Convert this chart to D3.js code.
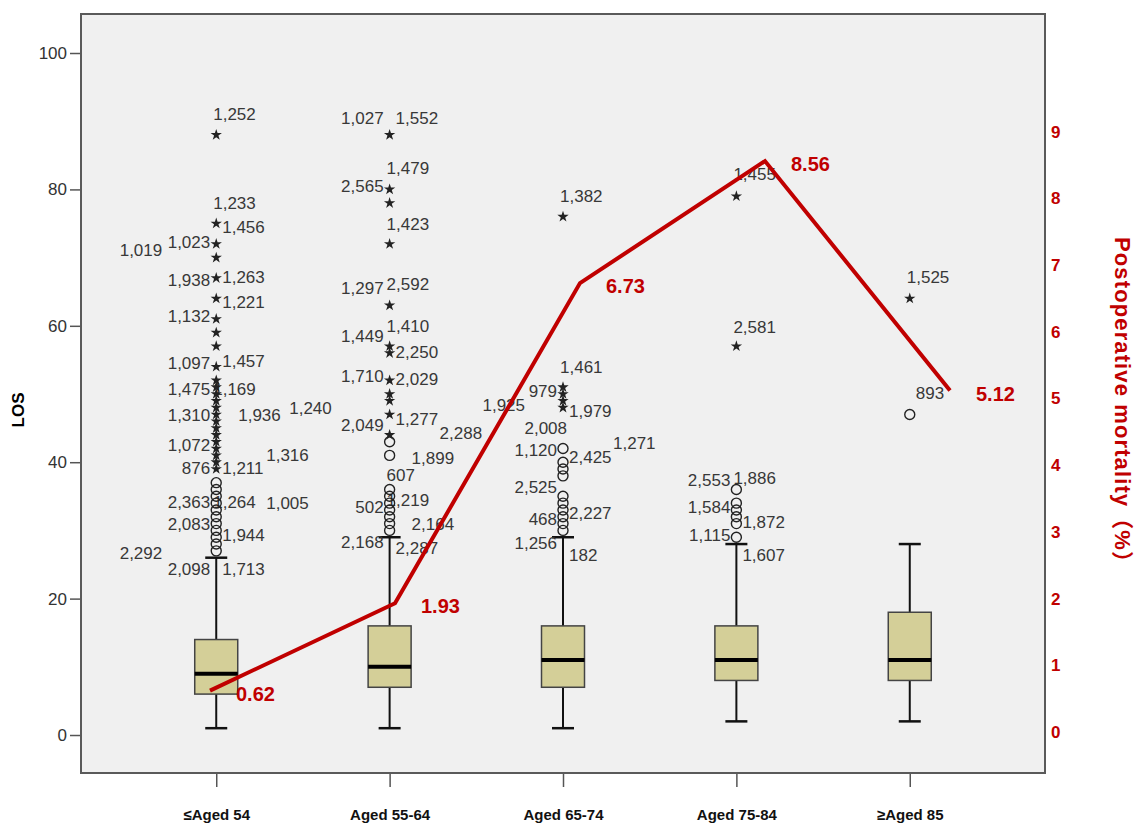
<!DOCTYPE html>
<html>
<head>
<meta charset="utf-8">
<script src="https://cdnjs.cloudflare.com/ajax/libs/d3/7.8.5/d3.min.js"></script>
<style>
  body { margin: 0; background: #fff; }
  svg { display: block; font-family: "Liberation Sans", Arial, sans-serif; }
</style>
</head>
<body>
<div id="chart"></div>
<script>
// age groups
const categories = ["≤Aged 54", "Aged 55-64", "Aged 65-74", "Aged 75-84", "≥Aged 85"]

// LOS box statistics per group
const whiskerLow  = [1, 1, 1, 2, 2]
const q1          = [6, 7, 7, 8, 8]
const median      = [9, 10, 11, 11, 11]
const q3          = [14, 16, 16, 16, 18]
const whiskerHigh = [26, 29, 29, 28, 28]

// outliers (o = mild, * = extreme)
const mildOutliers = [
  [27, 28, 29, 30, 31, 32, 33, 34, 35, 36, 37],
  [30, 31, 32, 33, 34, 35, 36, 41, 43],
  [30, 31, 32, 33, 34, 35, 38, 39, 40, 42],
  [29, 31, 32, 33, 34, 36],
  [47]
]
const extremeOutliers = [
  [39, 40, 41, 42, 43, 44, 45, 46, 47, 48, 49, 50, 51, 52, 54, 57, 59, 61, 64, 67, 70, 72, 75, 88],
  [44, 47, 49, 50, 52, 56, 57, 63, 72, 78, 80, 88],
  [48, 49, 50, 51, 76],
  [57, 79],
  [64]
]

// case labels: [group, text, LOS level, slot]
const caseLabels = [
  [0, "1,252", 91.1, "C"], [0, "1,233", 78.0, "C"], [0, "1,456", 74.5, "R1"],
  [0, "1,023", 72.3, "L1"], [0, "1,019", 71.1, "L2"], [0, "1,938", 66.7, "L1"],
  [0, "1,263", 67.2, "R1"], [0, "1,221", 63.5, "R1"], [0, "1,132", 61.4, "L1"],
  [0, "1,097", 54.6, "L1"], [0, "1,457", 54.8, "R1"], [0, "1,475", 50.8, "L1"],
  [0, "1,169", 50.8, "C"], [0, "1,310", 46.9, "L1"], [0, "1,936", 46.9, "R2"],
  [0, "1,240", 47.9, "R4"], [0, "1,072", 42.5, "L1"], [0, "1,316", 41.1, "R3"],
  [0, "876", 39.1, "L1"], [0, "1,211", 39.1, "R1"], [0, "2,363", 34.2, "L1"],
  [0, "1,264", 34.2, "C"], [0, "1,005", 34.0, "R3"], [0, "2,083", 30.9, "L1"],
  [0, "1,944", 29.3, "R1"], [0, "2,292", 26.7, "L2"], [0, "2,098", 24.3, "L1"],
  [0, "1,713", 24.3, "R1"],
  [1, "1,027", 90.5, "L1"], [1, "1,552", 90.5, "R1"], [1, "1,479", 83.2, "C"],
  [1, "2,565", 80.5, "L1"], [1, "1,423", 75.0, "C"], [1, "1,297", 65.6, "L1"],
  [1, "2,592", 66.1, "C"], [1, "1,410", 60.0, "C"], [1, "1,449", 58.5, "L1"],
  [1, "2,250", 56.2, "R1"], [1, "1,710", 52.6, "L1"], [1, "2,029", 52.2, "R1"],
  [1, "2,049", 45.5, "L1"], [1, "1,277", 46.4, "R1"], [1, "2,288", 44.3, "R3"],
  [1, "1,899", 40.7, "R2"], [1, "607", 38.2, "C"], [1, "502", 33.5, "L1"],
  [1, "1,219", 34.5, "C"], [1, "2,164", 31.0, "R2"], [1, "2,168", 28.3, "L1"],
  [1, "2,287", 27.4, "R1"],
  [2, "1,382", 79.0, "C"], [2, "1,461", 54.0, "C"], [2, "979", 50.4, "L1"],
  [2, "1,925", 48.4, "L3"], [2, "1,979", 47.5, "R1"], [2, "2,008", 45.0, "AL"],
  [2, "1,120", 41.8, "L1"], [2, "2,425", 40.8, "R1"], [2, "1,271", 42.8, "R3"],
  [2, "2,525", 36.4, "L1"], [2, "468", 31.7, "L1"], [2, "2,227", 32.5, "R1"],
  [2, "1,256", 28.2, "L1"], [2, "182", 26.4, "R1"],
  [3, "1,455", 82.3, "C"], [3, "2,581", 59.9, "C"], [3, "2,553", 37.4, "L1"],
  [3, "1,886", 37.7, "C"], [3, "1,584", 33.5, "L1"], [3, "1,872", 31.3, "R1"],
  [3, "1,115", 29.3, "L1"], [3, "1,607", 26.4, "R1"],
  [4, "1,525", 67.2, "C"], [4, "893", 50.1, "R1"]
]

// postoperative mortality (%)
const mortality = [0.62, 1.93, 6.73, 8.56, 5.12]

const leftTicks = [0, 20, 40, 60, 80, 100]
const rightTicks = [0, 1, 2, 3, 4, 5, 6, 7, 8, 9]

const W = 1136, H = 823
const frame = {left: 81, top: 14, right: 1045, bottom: 773}
const red = "#c00000"
const narrow = `"Liberation Sans Narrow", "Liberation Sans", Arial, sans-serif`

const svg = d3.select("#chart").append("svg")
  .attr("width", W).attr("height", H)

svg.append("rect")
  .attr("x", frame.left).attr("y", frame.top)
  .attr("width", frame.right - frame.left).attr("height", frame.bottom - frame.top)
  .attr("fill", "#f0f0f0")

const x = d3.scalePoint().domain(categories).range([frame.left, frame.right]).padding(0.78)
const y = d3.scaleLinear().domain([-5.57, 105.72]).range([frame.bottom, frame.top])
const yR = d3.scaleLinear().domain([-0.615, 10.765]).range([frame.bottom, frame.top])
// the mortality line sits on its own horizontal spacing
const xLine = d3.scalePoint().domain(categories).range([210, 950])

// left axis
const gL = svg.append("g")
  .attr("transform", `translate(${frame.left},0)`)
  .call(d3.axisLeft(y).tickValues(leftTicks).tickSize(11).tickPadding(3))
gL.select(".domain").remove()
gL.selectAll("line").attr("stroke", "#555").attr("stroke-width", 1.5)
gL.selectAll("text").attr("font-size", 17).attr("fill", "#333")

// bottom axis
const gB = svg.append("g")
  .attr("transform", `translate(0,${frame.bottom})`)
  .call(d3.axisBottom(x).tickSize(14).tickPadding(22))
gB.select(".domain").remove()
gB.selectAll("line").attr("stroke", "#555").attr("stroke-width", 1.5)
gB.selectAll("text").attr("font-size", 15).attr("font-weight", "bold")
  .attr("font-family", narrow).attr("fill", "#111")

// right axis (labels only)
const gR = svg.append("g")
  .attr("transform", `translate(${frame.right},0)`)
  .call(d3.axisRight(yR).tickValues(rightTicks).tickSize(0).tickPadding(6))
gR.select(".domain").remove()
gR.selectAll("text").attr("font-size", 17).attr("font-weight", "bold")
  .attr("font-family", narrow).attr("fill", red)

// frame
svg.append("rect")
  .attr("x", frame.left).attr("y", frame.top)
  .attr("width", frame.right - frame.left).attr("height", frame.bottom - frame.top)
  .attr("fill", "none").attr("stroke", "#5a5a5a").attr("stroke-width", 2)

// boxes
const boxW = 43, capW = 22
const groups = categories.map((c, i) => ({
  cat: c, lo: whiskerLow[i], q1: q1[i], med: median[i], q3: q3[i], hi: whiskerHigh[i]
}))
const gBox = svg.append("g")
groups.forEach(d => {
  const cx = x(d.cat)
  const g = gBox.append("g")
  g.append("line").attr("x1", cx).attr("x2", cx).attr("y1", y(d.lo)).attr("y2", y(d.q1))
    .attr("stroke", "#111").attr("stroke-width", 2)
  g.append("line").attr("x1", cx).attr("x2", cx).attr("y1", y(d.q3)).attr("y2", y(d.hi))
    .attr("stroke", "#111").attr("stroke-width", 2)
  ;[d.lo, d.hi].forEach(v => {
    g.append("line").attr("x1", cx - capW / 2).attr("x2", cx + capW / 2)
      .attr("y1", y(v)).attr("y2", y(v)).attr("stroke", "#111").attr("stroke-width", 2.5)
  })
  g.append("rect").attr("x", cx - boxW / 2).attr("y", y(d.q3))
    .attr("width", boxW).attr("height", y(d.q1) - y(d.q3))
    .attr("fill", "#d4cf98").attr("stroke", "#444").attr("stroke-width", 1.5)
  g.append("line").attr("x1", cx - boxW / 2).attr("x2", cx + boxW / 2)
    .attr("y1", y(d.med)).attr("y2", y(d.med)).attr("stroke", "#000").attr("stroke-width", 4)
})

// case labels
const slot = {L3: -38, L2: -54, L1: -6, AL: 4, C: -3, R1: 6, R2: 22, R3: 50, R4: 73}
svg.append("g").selectAll("text")
  .data(caseLabels)
  .join("text")
  .attr("x", d => x(categories[d[0]]) + slot[d[3]])
  .attr("y", d => y(d[2]))
  .attr("dy", "0.36em")
  .attr("text-anchor", d => (d[3].startsWith("L") || d[3] === "AL") ? "end" : "start")
  .attr("font-size", 17)
  .attr("fill", "#383838")
  .text(d => d[1])

// outlier markers
const gOut = svg.append("g")
mildOutliers.forEach((vals, i) => {
  gOut.selectAll(null).data(vals).join("circle")
    .attr("cx", x(categories[i])).attr("cy", v => y(v)).attr("r", 5)
    .attr("fill", "none").attr("stroke", "#222").attr("stroke-width", 1.4)
})
const star = d3.symbol().type(d3.symbolStar).size(40)
extremeOutliers.forEach((vals, i) => {
  gOut.selectAll(null).data(vals).join("path")
    .attr("d", star)
    .attr("transform", v => `translate(${x(categories[i])},${y(v)})`)
    .attr("fill", "#222")
})

// mortality line
const mData = categories.map((c, i) => ({cat: c, v: mortality[i]}))
svg.append("path")
  .datum(mData)
  .attr("d", d3.line().x(d => xLine(d.cat)).y(d => yR(d.v)))
  .attr("fill", "none").attr("stroke", red).attr("stroke-width", 4)
  .attr("stroke-linejoin", "miter")

svg.append("g").selectAll("text")
  .data(mData)
  .join("text")
  .attr("x", d => xLine(d.cat) + 26)
  .attr("y", d => yR(d.v) + 3)
  .attr("dy", "0.36em")
  .attr("font-size", 20).attr("font-weight", "bold").attr("font-family", narrow)
  .attr("fill", red)
  .text(d => d3.format(".2f")(d.v))

// axis titles
svg.append("text")
  .attr("transform", "translate(24,410) rotate(-90)")
  .attr("text-anchor", "middle")
  .attr("font-size", 17).attr("font-weight", "bold").attr("fill", "#000")
  .text("LOS")

svg.append("text")
  .attr("transform", "translate(1115,405) rotate(90)")
  .attr("text-anchor", "middle")
  .attr("font-size", 22).attr("font-weight", "bold").attr("fill", red)
  .attr("font-family", `"Liberation Sans", "Noto Sans CJK SC", sans-serif`)
  .attr("textLength", 336).attr("lengthAdjust", "spacing")
  .text("Postoperative mortality（%）")
</script>
</body>
</html>
